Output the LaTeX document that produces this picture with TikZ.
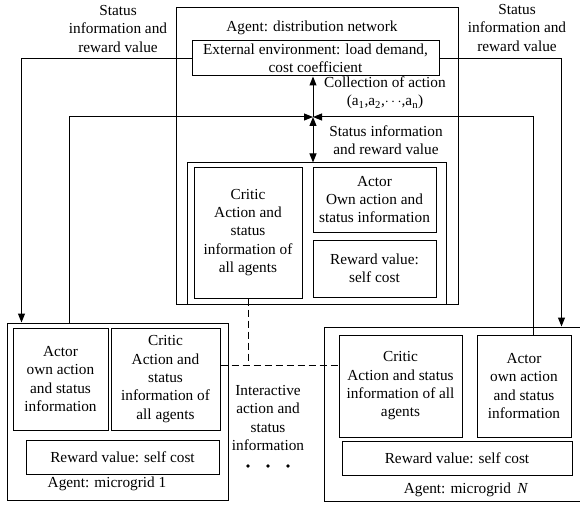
\documentclass[tikz,border=0pt]{standalone}
\usepackage{fontspec}
\setmainfont{Liberation Serif}
\usetikzlibrary{arrows.meta}

\begin{document}
\begin{tikzpicture}[
          x=1pt, y=-1pt,
          font=\fontsize{15.3}{18.3}\selectfont,
          line width=1pt,
          >={Triangle[length=9pt,width=7pt]},
          block/.style={draw, inner sep=0pt, align=center},
          note/.style={inner sep=0pt, align=center},
          link/.style={dash pattern=on 7pt off 4pt}
        ]
          \useasboundingbox (0,0) rectangle (580,505);

          % distribution network agent
          \node (dn)    at (317, 156)   [block, minimum width=282pt, minimum height=296pt] {};
          \node (dnlbl) at (312, 28)    [note] {Agent: distribution network};
          \node (env)   at (315.5, 58.5) [block, fill=white, minimum width=247pt, minimum height=35pt] {%
            External environment: load demand,\\ cost coefficient};
          \node (grp)   at (316.5, 233.5) [block, minimum width=259pt, minimum height=141pt] {};
          \node (crit0) at (248, 232.5) [block, minimum width=108pt, minimum height=131pt] {%
            Critic\\ Action and\\ status\\ information of\\ all agents};
          \node (act0)  at (374.5, 199.5) [block, minimum width=123pt, minimum height=65pt] {%
            Actor\\ Own action and\\ status information};
          \node (rew0)  at (374.5, 268.5) [block, minimum width=123pt, minimum height=57pt] {%
            Reward value:\\ self cost};

          % microgrid 1
          \node (mg1)   at (117.5, 411.5) [block, minimum width=221pt, minimum height=177pt] {};
          \node (act1)  at (60.5, 379)  [block, minimum width=95pt, minimum height=102pt] {%
            Actor\\ own action\\ and status\\ information};
          \node (crit1) at (165.5, 379) [block, minimum width=109pt, minimum height=102pt] {%
            Critic\\ Action and\\ status\\ information of\\ all agents};
          \node (rew1)  at (122.5, 457) [block, minimum width=193pt, minimum height=34pt] {Reward value: self cost};
          \node (mg1lbl) at (107, 484)  [note] {Agent: microgrid 1};

          % microgrid N
          \node (mgN)   at (454, 414)   [block, minimum width=260pt, minimum height=174pt] {};
          \node (critN) at (400.5, 386) [block, minimum width=123pt, minimum height=102pt] {%
            Critic\\ Action and status\\ information of all\\ agents};
          \node (actN)  at (524, 386)   [block, minimum width=94pt, minimum height=102pt] {%
            Actor\\ own action\\ and status\\ information};
          \node (rewN)  at (457, 458)   [block, minimum width=230pt, minimum height=34pt] {Reward value: self cost};
          \node (mgNlbl) at (466, 490)  [note] {Agent: microgrid \,\textit{N}};

          % labels
          \node (stL)   at (118, 29)    [note] {Status\\ information and\\ reward value};
          \node (stR)   at (517, 28)    [note] {Status\\ information and\\ reward value};
          \node (coll)  at (385, 93)    [note] {Collection of action\\ (a\textsubscript{1},a\textsubscript{2},$\cdots$,a\textsubscript{n})};
          \node (stD)   at (386, 140)   [note] {Status information\\ and reward value};
          \node (inter) at (268, 418)   [note] {Interactive\\ action and\\ status\\ information};
          \foreach \x in {248, 268, 288}
            \fill (\x, 466) circle (1.8pt);

          % connectors
          \coordinate (J) at (313, 117);
          \draw [->] (J) -- (J |- env.south);
          \draw [<->] (J) -- (J |- grp.north);
          \draw [->] ([xshift=63pt]mg1.north west) |- (J);
          \draw [->] ([xshift=9pt]actN.north) |- (J);
          \draw [->] (env.west) -| ([xshift=15pt]mg1.north west);
          \draw [->] (env.east) -| ([xshift=238pt]mgN.north west);

          \coordinate (lnk) at ([yshift=14pt]crit1.east);
          \draw [link] (crit0.south) -- (crit0.south |- lnk);
          \draw [link] (lnk) -- (lnk -| critN.west);
        \end{tikzpicture}
\end{document}
